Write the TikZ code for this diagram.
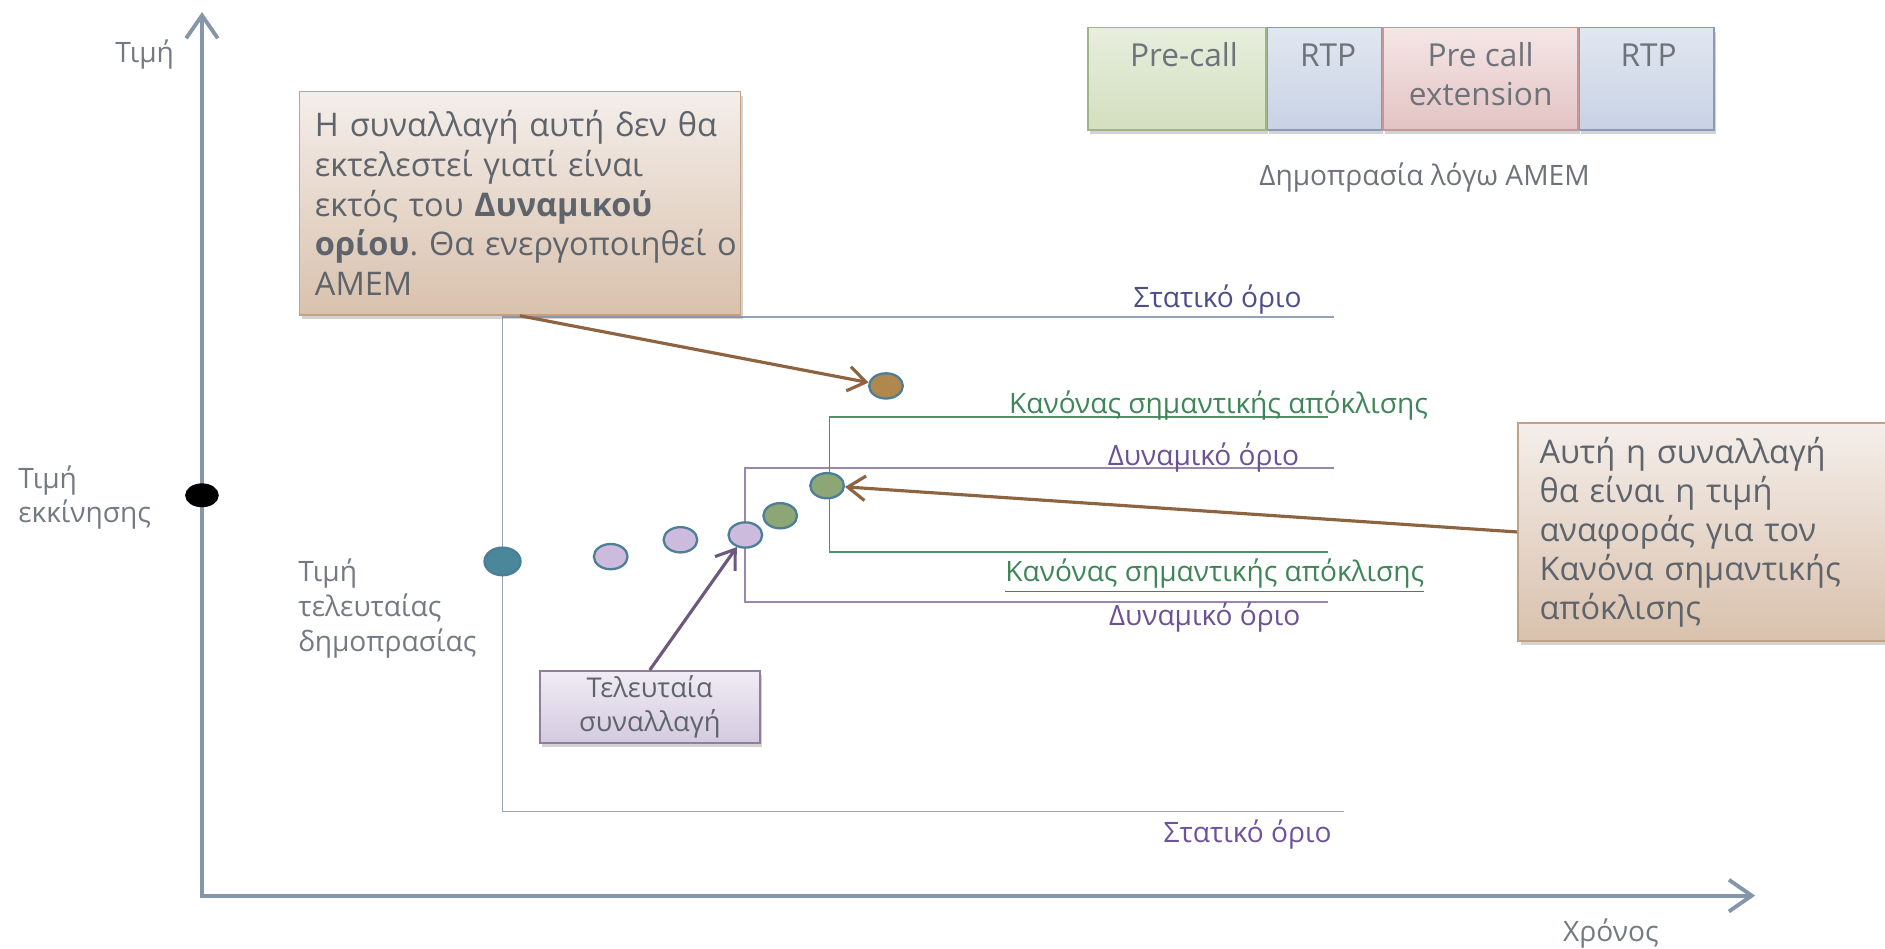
\documentclass[tikz,border=0pt]{standalone}
\usepackage{fontspec}
\setmainfont{Open Sans}
\usetikzlibrary{arrows.meta}
\usetikzlibrary{positioning}
\usetikzlibrary{shadows}
\usetikzlibrary{shapes.geometric}
\frenchspacing

\newcommand{\pxu}{0.24044mm}
\definecolor{axisgray}{HTML}{8696AA}
\definecolor{lblgray}{HTML}{737A82}
\definecolor{boxtxt}{HTML}{5E646C}
\definecolor{statline}{HTML}{93A3B8}
\definecolor{statlbl}{HTML}{4E4C8A}
\definecolor{statlbltwo}{HTML}{6E52A2}
\definecolor{dynline}{HTML}{9A86AE}
\definecolor{dynlbl}{HTML}{6C5294}
\definecolor{ruleline}{HTML}{4F9068}
\definecolor{rulelbl}{HTML}{3E8658}
\definecolor{dotedge}{HTML}{4C7E98}
\definecolor{teal}{HTML}{4A879B}
\definecolor{lav}{HTML}{CDBBDD}
\definecolor{sage}{HTML}{8CA675}
\definecolor{ochre}{HTML}{B0884E}
\definecolor{arrbrown}{HTML}{8E6440}
\definecolor{arrpurple}{HTML}{6E587E}
\definecolor{notetop}{HTML}{F4EEEA}
\definecolor{notebot}{HTML}{D9C1AD}
\definecolor{notebrd}{HTML}{C4A085}
\definecolor{lasttop}{HTML}{F0ECF4}
\definecolor{lastbot}{HTML}{D4CAE0}
\definecolor{lastbrd}{HTML}{8E7FA0}
\definecolor{pretop}{HTML}{E7EEDD}
\definecolor{prebot}{HTML}{D3DFBF}
\definecolor{prebrd}{HTML}{A0B488}
\definecolor{rtptop}{HTML}{E1E7F1}
\definecolor{rtpbot}{HTML}{C8D2E4}
\definecolor{rtpbrd}{HTML}{8A9AB8}
\definecolor{exttop}{HTML}{F5E6E6}
\definecolor{extbot}{HTML}{E3C3C3}
\definecolor{extbrd}{HTML}{C49898}
\definecolor{bartxt}{HTML}{6E737A}

\tikzset{axisline/.style={draw=axisgray,line width=2.4pt,{Straight Barb[length=13pt,width=18pt,line width=2.2pt]}-{Straight Barb[length=13pt,width=18pt,line width=2.2pt]}}}
\tikzset{limit/.style={line width=1.1pt}}
\tikzset{pt/.style={ellipse,draw=dotedge,line width=1.3pt,minimum width=28*\pxu,minimum height=21*\pxu,inner sep=0pt}}
\tikzset{note/.style={draw=notebrd,line width=0.9pt,top color=notetop,bottom color=notebot,text=boxtxt,align=left,font=\fontsize{18.5}{22.6}\selectfont,drop shadow={shadow xshift=1.5pt,shadow yshift=-2.5pt,opacity=0.35}}}
\tikzset{barbox/.style={line width=0.9pt,minimum height=85*\pxu,inner sep=0pt,drop shadow={shadow xshift=1pt,shadow yshift=-2.5pt,opacity=0.35}}}
\tikzset{bartext/.style={text=bartxt,font=\fontsize{18}{21.9}\selectfont,align=center,inner sep=0pt}}
\tikzset{lbl/.style={font=\fontsize{16}{19.8}\selectfont,inner sep=0pt,align=left}}
\tikzset{pointer/.style={line width=1.8pt,-{Straight Barb[length=10pt,width=14pt,line width=1.8pt]}}}

\begin{document}
\begin{tikzpicture}[x=0.24044mm,y=-0.24044mm]
\useasboundingbox (0,0) rectangle (1568,789);
% axes
\coordinate (O) at (168,745);
\coordinate (ytop) at (168,10);
\coordinate (xend) at (1460,745);
\draw[axisline] (ytop) -- (O) -- (xend);
\node[pt,fill=black,draw=black,minimum width=26*\pxu,minimum height=18*\pxu] (start) at (168,412) {};
\node[lbl,text=lblgray,anchor=base east] (price) at (145,52) {Τιμή};
\node[lbl,text=lblgray,anchor=base] (time) at (1340,783) {Χρόνος};
\node[lbl,text=lblgray,anchor=base west] (startlbl) at (15,435) {Τιμή\\εκκίνησης};
\node[lbl,text=lblgray,anchor=base west] (lastlbl) at (248,542) {Τιμή\\τελευταίας\\δημοπρασίας};

% limits
\draw[limit,draw=statline] (1110,264) -- (418,264) -- (418,675) -- (1118,675);
\draw[limit,draw=dynline] (1110,389) -- (620,389) -- (620,501) -- (1105,501);
\draw[limit,draw=ruleline] (1105,347) -- (690,347) -- (690,459) -- (1105,459);
\node[lbl,text=statlbl,anchor=base east] (stat1) at (1083,256) {Στατικό όριο};
\node[lbl,text=rulelbl,anchor=base east] (rule1) at (1188,344) {Κανόνας σημαντικής απόκλισης};
\node[lbl,text=dynlbl,anchor=base east] (dyn1) at (1081,387) {Δυναμικό όριο};
\node[lbl,text=rulelbl,anchor=base east] (rule2) at (1185,484) {\underline{Κανόνας σημαντικής απόκλισης}};
\node[lbl,text=dynlbl,anchor=base east] (dyn2) at (1082,520) {Δυναμικό όριο};
\node[lbl,text=statlbltwo,anchor=base east] (stat2) at (1108,701) {Στατικό όριο};

% trades
\node[pt,fill=teal,minimum width=30*\pxu,minimum height=23*\pxu] (tdot) at (418,467) {};
\foreach \n/\x/\y/\c in {l1/508/463/lav,l2/566/449/lav,l3/620/445/lav,g1/649/429/sage,g2/688/404/sage,br/737/321/ochre}
	\node[pt,fill=\c] (\n) at (\x,\y) {};

% notes
\node[note,minimum width=367*\pxu,minimum height=186*\pxu,text width=341*\pxu,inner xsep=13*\pxu] (warn) at (432.5,169)
	{Η συναλλαγή αυτή δεν θα\\εκτελεστεί γιατί είναι\\εκτός του \textbf{Δυναμικού}\\\mbox{\textbf{ορίου}. Θα ενεργοποιηθεί ο}\\AMEM};
\node[note,anchor=west,minimum width=330*\pxu,minimum height=181*\pxu,text width=294*\pxu,inner xsep=18*\pxu,font=\fontsize{18.5}{22.2}\selectfont] (ref) at (1262,442.5)
	{Αυτή η συναλλαγή\\θα είναι η τιμή\\αναφοράς για τον\\Κανόνα σημαντικής\\απόκλισης};
\node[note,draw=lastbrd,top color=lasttop,bottom color=lastbot,align=center,font=\fontsize{15.5}{19.2}\selectfont,minimum width=183*\pxu,minimum height=60*\pxu,inner sep=0pt] (last) at (540.5,588)
	{Τελευταία\\συναλλαγή};

% auction bar
\node[barbox,draw=prebrd,top color=pretop,bottom color=prebot,minimum width=148*\pxu] (pre) at (979,65.5) {};
\node[barbox,draw=rtpbrd,top color=rtptop,bottom color=rtpbot,minimum width=95*\pxu,right=0pt of pre] (rtp1) {};
\node[barbox,draw=extbrd,top color=exttop,bottom color=extbot,minimum width=162*\pxu,right=0pt of rtp1] (ext) {};
\node[barbox,draw=rtpbrd,top color=rtptop,bottom color=rtpbot,minimum width=112*\pxu,right=0pt of ext] (rtp2) {};
\node[bartext,anchor=base] (pretxt) at ([xshift=4pt,yshift=-22.6pt]pre.north) {Pre-call};
\node[bartext,anchor=base] (rtp1txt) at ([xshift=2pt,yshift=-22.6pt]rtp1.north) {RTP};
\node[bartext,anchor=base] (exttxt) at ([yshift=-44.5pt]ext.north) {Pre call\\extension};
\node[bartext,anchor=base] (rtp2txt) at ([xshift=1pt,yshift=-22.6pt]rtp2.north) {RTP};
\node[lbl,text=bartxt,anchor=base] (amem) at (1185,154) {Δημοπρασία λόγω AMEM};

% pointers
\draw[pointer,draw=arrbrown] (warn.south) -- (br);
\draw[pointer,draw=arrbrown] (ref.west) -- (g2);
\draw[pointer,draw=arrpurple] (last.north) -- (l3);
\end{tikzpicture}
\end{document}
